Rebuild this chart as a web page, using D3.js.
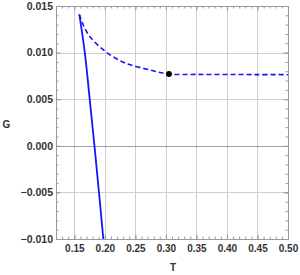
<!DOCTYPE html>
<html>
	<head>
		<meta charset="utf-8">
		<script src="https://d3js.org/d3.v7.min.js"></script>
		<style>
			body { margin: 0; background: #fff; }
			text { font-family: "Liberation Sans", Arial, sans-serif; font-weight: bold; fill: #333; }
		</style>
	</head>
	<body>
		<script>
			// values
			var solidT = [0.1582, 0.1672, 0.1752, 0.1830, 0.1904, 0.1975];
			var solidG = [0.0141, 0.0100, 0.0050, 0.0000, -0.0050, -0.0100];
			var dashedT = [0.1582, 0.1647, 0.1757, 0.20, 0.2248, 0.2413, 0.274, 0.305, 0.35, 0.40, 0.45, 0.50];
			var dashedG = [0.0141, 0.01296, 0.0117, 0.01017, 0.00913, 0.0087, 0.00813, 0.0077, 0.00766, 0.00765, 0.00764, 0.00763];
			var pointT = [0.305];
			var pointG = [0.0077];
			var xTicks = [0.15, 0.20, 0.25, 0.30, 0.35, 0.40, 0.45, 0.50];
			var yTicks = [-0.010, -0.005, 0.000, 0.005, 0.010, 0.015];

			var width = 300, height = 275;
			var pL = 56, pR = 288, pT = 6, pB = 239;

			var svg = d3.select('body').append('svg')
				.attr('width', width)
				.attr('height', height);

			var x = d3.scaleLinear().domain([0.12, 0.50]).range([pL, pR]);
			var y = d3.scaleLinear().domain([-0.010, 0.015]).range([pB, pT]);

			// minor ticks every 0.01 on x and 0.001 on y
			var xMinor = d3.range(12, 51).map(function(d) { return d / 100; });
			var yMinor = d3.range(-10, 16).map(function(d) { return d / 1000; });

			// grid
			svg.append('g').selectAll('line').data(xTicks).enter().append('line')
				.attr('x1', function(d) { return Math.round(x(d)) + 0.5; })
				.attr('x2', function(d) { return Math.round(x(d)) + 0.5; })
				.attr('y1', pT).attr('y2', pB)
				.attr('stroke', '#cfcfcf');
			svg.append('g').selectAll('line').data(yTicks).enter().append('line')
				.attr('y1', function(d) { return Math.round(y(d)) + 0.5; })
				.attr('y2', function(d) { return Math.round(y(d)) + 0.5; })
				.attr('x1', pL).attr('x2', pR)
				.attr('stroke', function(d) { return d === 0 ? '#a0a0a0' : '#cfcfcf'; });

			// frame with inward ticks
			var axisColor = '#9a9a9a';
			function frameAxis(axis, tr) {
				var g = svg.append('g').attr('transform', tr).call(axis);
				g.select('.domain').remove();
				g.selectAll('line').attr('stroke', axisColor);
				return g;
			}
			var fmtY = function(d) { return d3.format('.3f')(d).replace('-', '\u2212'); };

			frameAxis(d3.axisBottom(x).tickValues(xMinor).tickSize(-2.5).tickFormat(''), 'translate(0,' + pB + ')');
			frameAxis(d3.axisTop(x).tickValues(xMinor).tickSize(-2.5).tickFormat(''), 'translate(0,' + pT + ')');
			frameAxis(d3.axisLeft(y).tickValues(yMinor).tickSize(-2.5).tickFormat(''), 'translate(' + pL + ',0)');
			frameAxis(d3.axisRight(y).tickValues(yMinor).tickSize(-2.5).tickFormat(''), 'translate(' + pR + ',0)');

			var xb = frameAxis(d3.axisBottom(x).tickValues(xTicks).tickSize(-4.5).tickPadding(6).tickFormat(d3.format('.2f')), 'translate(0,' + pB + ')');
			xb.selectAll('text').style('font-size', '10px').attr('fill', '#333');
			frameAxis(d3.axisTop(x).tickValues(xTicks).tickSize(-4.5).tickFormat(''), 'translate(0,' + pT + ')');
			var yl = frameAxis(d3.axisLeft(y).tickValues(yTicks).tickSize(-4.5).tickPadding(3).tickFormat(fmtY), 'translate(' + pL + ',0)');
			yl.selectAll('text').style('font-size', '10.5px').attr('fill', '#333');
			frameAxis(d3.axisRight(y).tickValues(yTicks).tickSize(-4.5).tickFormat(''), 'translate(' + pR + ',0)');

			svg.append('rect')
				.attr('x', pL + 0.5).attr('y', pT + 0.5)
				.attr('width', pR - pL).attr('height', pB - pT)
				.attr('fill', 'none').attr('stroke', axisColor);

			// curves
			svg.append('clipPath').attr('id', 'clip').append('rect')
				.attr('x', pL).attr('y', pT).attr('width', pR - pL).attr('height', pB - pT);

			var line = d3.line()
				.x(function(d) { return x(d[0]); })
				.y(function(d) { return y(d[1]); })
				.curve(d3.curveCatmullRom);

			svg.append('path')
				.datum(solidT.map(function(t, i) { return [t, solidG[i]]; }))
				.attr('d', line)
				.attr('clip-path', 'url(#clip)')
				.attr('fill', 'none').attr('stroke', '#1414ff').attr('stroke-width', 1.8);

			svg.append('path')
				.datum(dashedT.map(function(t, i) { return [t, dashedG[i]]; }))
				.attr('d', line)
				.attr('clip-path', 'url(#clip)')
				.attr('fill', 'none').attr('stroke', '#1414ff').attr('stroke-width', 1.6)
				.attr('stroke-dasharray', '5,3');

			svg.append('g').selectAll('circle').data(pointT).enter().append('circle')
				.attr('cx', function(d) { return x(d); })
				.attr('cy', function(d, i) { return y(pointG[i]); })
				.attr('r', 3)
				.attr('fill', '#000');

			// axis labels
			svg.append('text').attr('x', 6.5).attr('y', 127.5).attr('text-anchor', 'middle')
				.style('font-size', '10px').text('G');
			svg.append('text').attr('x', 173).attr('y', 271).attr('text-anchor', 'middle')
				.style('font-size', '10px').text('T');
		</script>
	</body>
</html>
